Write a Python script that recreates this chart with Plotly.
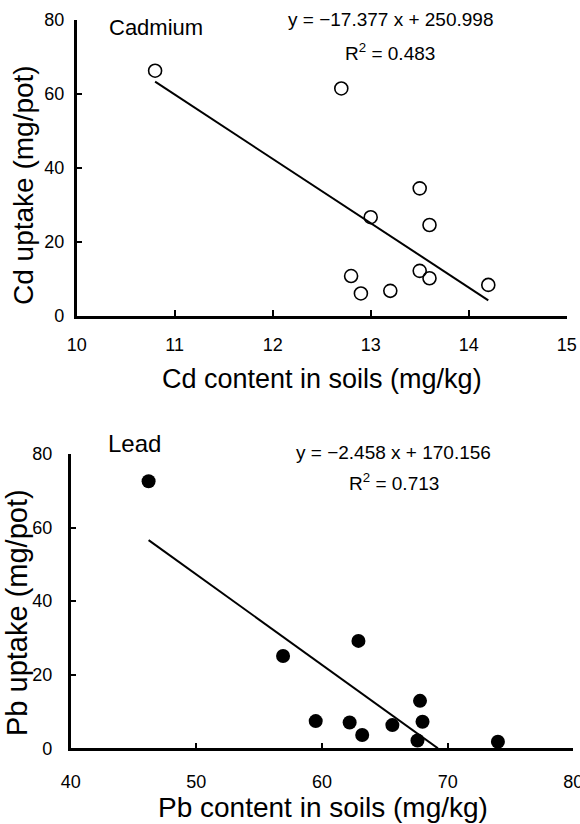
import plotly.graph_objects as go

# ---------------- data ----------------
cd_soil = [10.8, 12.7, 13.5, 13.0, 13.6, 12.8, 12.9, 13.2, 13.5, 13.6, 14.2]
cd_uptake = [66.3, 61.5, 34.5, 26.7, 24.6, 10.8, 6.1, 6.8, 12.2, 10.2, 8.4]
cd_slope, cd_intercept, cd_r2 = -17.377, 250.998, 0.483

pb_soil = [46.2, 56.9, 62.9, 59.5, 62.2, 63.2, 65.6, 67.8, 68.0, 67.6, 74.0]
pb_uptake = [72.6, 25.1, 29.2, 7.4, 7.0, 3.6, 6.3, 12.9, 7.2, 2.1, 1.8]
pb_slope, pb_intercept, pb_r2 = -2.458, 170.156, 0.713

cd_xticks = [10, 11, 12, 13, 14, 15]
pb_xticks = [40, 50, 60, 70, 80]
y_ticks = [0, 20, 40, 60, 80]

W, H = 580, 824
def PX(x):
    return x / W
def PY(y):
    return 1 - y / H

ARIAL = "Liberation Sans, Arial, sans-serif"

# trend lines from the fitted equations
cd_lx = [min(cd_soil), max(cd_soil)]
cd_ly = [cd_slope * v + cd_intercept for v in cd_lx]
pb_lx = [min(pb_soil), -pb_intercept / pb_slope]
pb_ly = [pb_slope * v + pb_intercept for v in pb_lx]

fig = go.Figure()
fig.add_trace(go.Scatter(x=cd_lx, y=cd_ly, mode="lines",
                         line=dict(color="black", width=2),
                         xaxis="x", yaxis="y", showlegend=False, cliponaxis=False))
fig.add_trace(go.Scatter(x=cd_soil, y=cd_uptake, mode="markers",
                         marker=dict(symbol="circle-open", size=13, color="black",
                                     line=dict(width=1.6, color="black")),
                         xaxis="x", yaxis="y", showlegend=False, cliponaxis=False))
fig.add_trace(go.Scatter(x=pb_lx, y=pb_ly, mode="lines",
                         line=dict(color="black", width=2),
                         xaxis="x2", yaxis="y2", showlegend=False, cliponaxis=False))
fig.add_trace(go.Scatter(x=pb_soil, y=pb_uptake, mode="markers",
                         marker=dict(symbol="circle", size=14, color="black"),
                         xaxis="x2", yaxis="y2", showlegend=False, cliponaxis=False))

axis_common = dict(showline=True, linecolor="black", linewidth=2.5,
                   ticks="inside", ticklen=6, tickwidth=2, tickcolor="black",
                   showgrid=False, zeroline=False, fixedrange=True, automargin=False,
                   ticklabeloverflow="allow",
                   tickfont=dict(family=ARIAL, size=18, color="black"))

fig.update_layout(
    width=W, height=H,
    margin=dict(l=0, r=0, t=0, b=0),
    paper_bgcolor="white", plot_bgcolor="white",
    showlegend=False,
    xaxis=dict(domain=[PX(76.7), PX(566.7)], range=[10, 15], tickvals=cd_xticks,
               anchor="y", ticklabelstandoff=11, **axis_common),
    yaxis=dict(domain=[PY(316), PY(20)], range=[0, 80], tickvals=y_ticks,
               anchor="x", ticklabelstandoff=6, **axis_common),
    xaxis2=dict(domain=[PX(70.7), PX(573.3)], range=[40, 80], tickvals=pb_xticks,
                anchor="y2", ticklabelstandoff=15, **axis_common),
    yaxis2=dict(domain=[PY(748.3), PY(454)], range=[0, 80], tickvals=y_ticks,
                anchor="x2", ticklabelstandoff=12, **axis_common),
)

def ann(text, x, y, size, angle=0):
    fig.add_annotation(text=text, x=PX(x), y=PY(y), xref="paper", yref="paper",
                       xanchor="center", yanchor="middle", showarrow=False,
                       textangle=angle, font=dict(family=ARIAL, size=size, color="black"))

# top panel texts
ann("Cadmium", 156, 28, 22)
ann(f"y = −{abs(cd_slope):.3f} x + {cd_intercept:.3f}", 390, 20, 19)
ann(f"R<sup>2</sup> = {cd_r2:.3f}", 390, 52, 19)
ann("Cd uptake (mg/pot)", 23, 185, 28, angle=-90)
ann("Cd content in soils (mg/kg)", 322, 379, 27)

# bottom panel texts
ann("Lead", 134, 443, 24)
ann(f"y = −{abs(pb_slope):.3f} x + {pb_intercept:.3f}", 393, 452, 19)
ann(f"R<sup>2</sup> = {pb_r2:.3f}", 394, 482, 19)
ann("Pb uptake (mg/pot)", 17, 613, 29, angle=-90)
ann("Pb content in soils (mg/kg)", 323, 807, 28)

fig.write_html(
    "out.html",
    config={"displayModeBar": False},
    post_script="document.body.style.margin='0px';"
                "document.body.style.overflow='hidden';",
)
